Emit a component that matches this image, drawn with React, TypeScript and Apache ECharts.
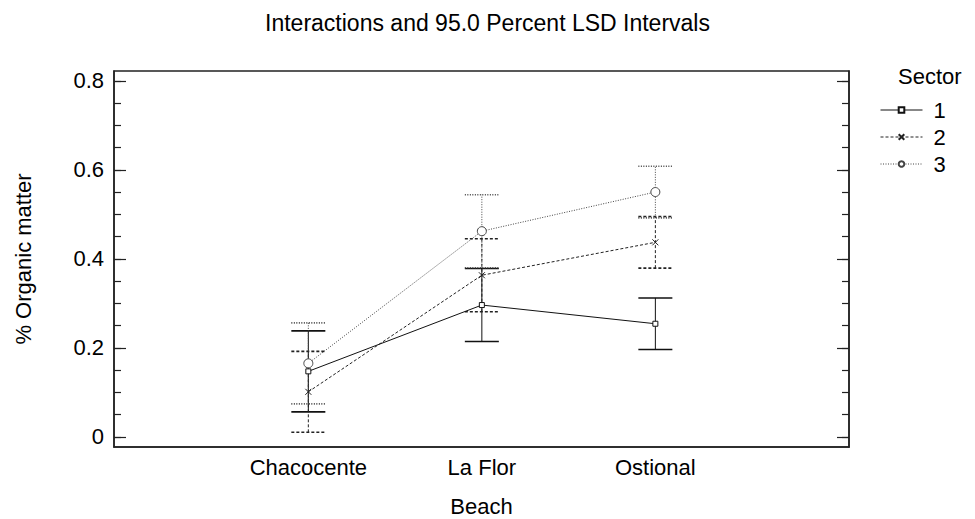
import React, { useEffect, useRef } from "react";
import * as echarts from "echarts";

// Beach categories and the mean % organic matter per sector
const categories = ["Chacocente", "La Flor", "Ostional"];
const sectorNames = ["1", "2", "3"];
const sector1Mean = [0.147, 0.296, 0.254];
const sector2Mean = [0.101, 0.363, 0.437];
const sector3Mean = [0.165, 0.462, 0.55];
// half-width of the 95% LSD interval at each beach
const lsdHalfWidth = [0.091, 0.082, 0.058];

const majorTicks = [0, 0.2, 0.4, 0.6, 0.8];
const minorTicks = [
  0, 0.05, 0.1, 0.15, 0.2, 0.25, 0.3, 0.35, 0.4, 0.45, 0.5, 0.55, 0.6, 0.65,
  0.7, 0.75, 0.8,
];

const FONT = "'Liberation Sans', Arial, Helvetica, sans-serif";
const Y_MIN = -0.023;
const Y_MAX = 0.822;

const styles = [
  { color: "#111", dash: null as number[] | null, symbol: "rect", size: 5 },
  { color: "#222", dash: [3, 2], symbol: "path://M0,0L10,10M10,0L0,10", size: 6 },
  { color: "#444", dash: [1, 1.5], symbol: "circle", size: 9 },
];
const means = [sector1Mean, sector2Mean, sector3Mean];

export default function App() {
  const ref = useRef<HTMLDivElement>(null);

  useEffect(() => {
    document.body.style.margin = "0";
    if (!ref.current) return;
    const chart = echarts.init(ref.current, null, { renderer: "svg" });

    const yBase = {
      type: "value",
      min: Y_MIN,
      max: Y_MAX,
      splitLine: { show: false },
    };

    const lineSeries = means.map((m, s) => ({
      name: sectorNames[s],
      type: "line",
      yAxisIndex: 0,
      data: m.map((v, i) => [i + 1, v]),
      symbol: styles[s].symbol,
      symbolSize: styles[s].size,
      showSymbol: true,
      lineStyle: {
        color: styles[s].color,
        width: 1,
        type: styles[s].dash ?? "solid",
      },
      itemStyle: {
        color: "#fff",
        borderColor: styles[s].color,
        borderWidth: 1,
      },
      z: 3,
    }));

    const errorSeries = means.map((m, s) => ({
      name: "lsd" + sectorNames[s],
      type: "custom",
      yAxisIndex: 0,
      data: m.map((v, i) => [i + 1, v - lsdHalfWidth[i], v + lsdHalfWidth[i]]),
      renderItem: (_params: any, api: any) => {
        const x = api.value(0);
        const lo = api.coord([x, api.value(1)]);
        const hi = api.coord([x, api.value(2)]);
        const hw = 17;
        const base = {
          stroke: styles[s].color,
          fill: null,
          lineDash: styles[s].dash ?? undefined,
        };
        return {
          type: "group",
          children: [
            {
              type: "line",
              shape: { x1: lo[0], y1: lo[1], x2: hi[0], y2: hi[1] },
              style: { ...base, lineWidth: 1 },
            },
            {
              type: "line",
              shape: { x1: lo[0] - hw, y1: lo[1], x2: lo[0] + hw, y2: lo[1] },
              style: { ...base, lineWidth: 1.6 },
            },
            {
              type: "line",
              shape: { x1: hi[0] - hw, y1: hi[1], x2: hi[0] + hw, y2: hi[1] },
              style: { ...base, lineWidth: 1.6 },
            },
          ],
        };
      },
      z: 2,
    }));

    const tickLine = { color: "#222", width: 1.2 };
    const axisLineStyle = { color: "#222", width: 1.5 };

    chart.setOption({
      animation: false,
      backgroundColor: "#fff",
      textStyle: { fontFamily: FONT },
      title: {
        text: "Interactions and 95.0 Percent LSD Intervals",
        left: "center",
        top: 6,
        textStyle: {
          fontSize: 23,
          fontWeight: "normal",
          color: "#000",
          fontFamily: FONT,
        },
      },
      legend: {
        orient: "vertical",
        left: 875,
        top: 94,
        itemWidth: 42,
        itemHeight: 7,
        itemGap: 5,
        data: sectorNames,
        lineStyle: { width: 1 },
        textStyle: {
          fontSize: 22,
          color: "#000",
          fontFamily: FONT,
          padding: [0, 0, 0, 6],
        },
      },
      graphic: [
        {
          type: "text",
          left: 898,
          top: 65,
          style: { text: "Sector", fill: "#000", font: "22px " + FONT },
        },
      ],
      grid: {
        left: 114,
        right: 126,
        top: 71,
        bottom: 72,
        show: true,
        borderColor: "#222",
        borderWidth: 1.5,
        containLabel: false,
        outerBoundsMode: "none",
      },
      xAxis: {
        type: "value",
        min: -0.12,
        max: 4.116,
        splitLine: { show: false },
        axisLine: { show: true, onZero: false, lineStyle: axisLineStyle },
        axisTick: { show: false },
        axisLabel: {
          customValues: [1, 2, 3],
          formatter: (v: number) => categories[Math.round(v) - 1] ?? "",
          fontSize: 22,
          color: "#000",
          margin: 9,
          fontFamily: FONT,
        },
        name: "Beach",
        nameLocation: "middle",
        nameGap: 48,
        nameTextStyle: { fontSize: 22, color: "#000", fontFamily: FONT },
      },
      yAxis: [
        {
          ...yBase,
          position: "left",
          axisLine: { show: true, onZero: false, lineStyle: axisLineStyle },
          axisTick: {
            show: true,
            inside: true,
            length: 12,
            customValues: majorTicks,
            lineStyle: tickLine,
          },
          axisLabel: {
            customValues: majorTicks,
            formatter: (v: number) => String(Number(v.toFixed(1))),
            fontSize: 22,
            color: "#000",
            margin: 10,
            fontFamily: FONT,
          },
          name: "% Organic matter",
          nameLocation: "middle",
          nameGap: 80,
          nameTextStyle: { fontSize: 22, color: "#000", fontFamily: FONT },
        },
        {
          ...yBase,
          position: "left",
          axisLine: { show: false, onZero: false },
          axisLabel: { show: false },
          axisTick: {
            show: true,
            inside: true,
            length: 7,
            customValues: minorTicks,
            lineStyle: tickLine,
          },
        },
        {
          ...yBase,
          position: "right",
          axisLine: { show: true, onZero: false, lineStyle: axisLineStyle },
          axisLabel: { show: false },
          axisTick: {
            show: true,
            inside: true,
            length: 12,
            customValues: majorTicks,
            lineStyle: tickLine,
          },
        },
        {
          ...yBase,
          position: "right",
          axisLine: { show: false, onZero: false },
          axisLabel: { show: false },
          axisTick: {
            show: true,
            inside: true,
            length: 7,
            customValues: minorTicks,
            lineStyle: tickLine,
          },
        },
      ],
      series: [...errorSeries, ...lineSeries],
    });

    return () => chart.dispose();
  }, []);

  return <div ref={ref} style={{ width: 975, height: 519 }} />;
}
